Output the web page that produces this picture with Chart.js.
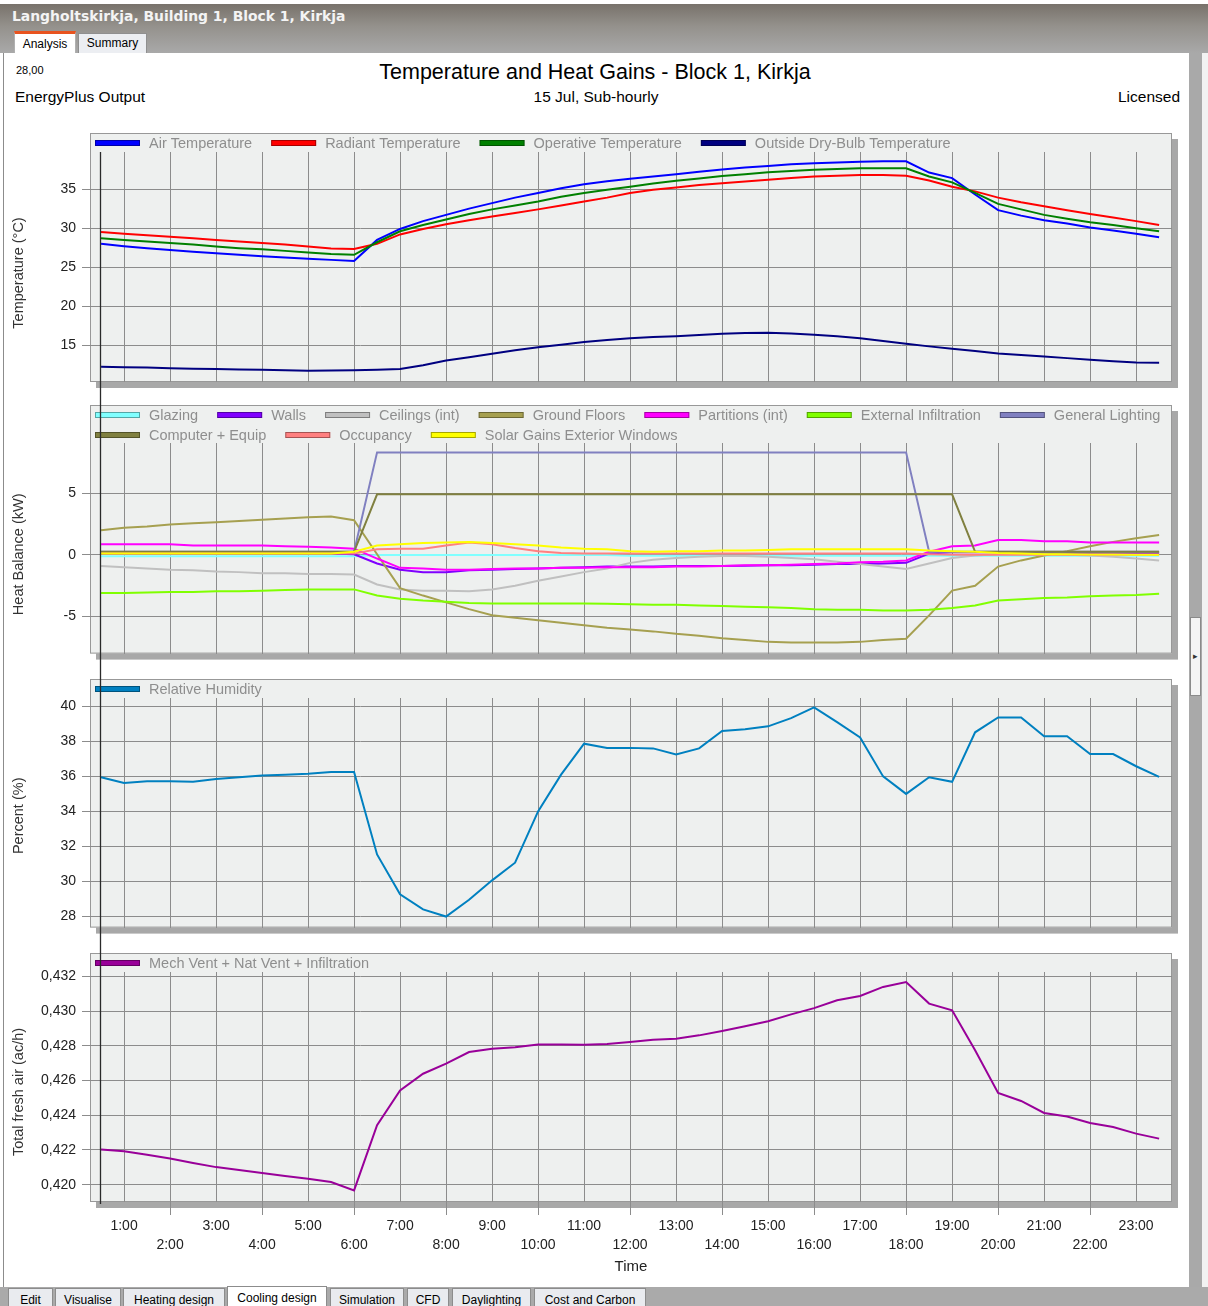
<!DOCTYPE html>
<html>
<head>
<meta charset="utf-8">
<title>Temperature and Heat Gains - Block 1, Kirkja</title>
<script src="https://cdn.jsdelivr.net/npm/chart.js@4/dist/chart.umd.min.js"></script>
<style>
  html, body { margin: 0; padding: 0; }
  body { width: 1208px; height: 1306px; position: relative; overflow: hidden; background: #fff;
         font-family: "Liberation Sans", Arial, sans-serif; }
  .abs { position: absolute; }
  #titlebar { left: 0; top: 4px; width: 1208px; height: 49px; box-sizing: border-box; padding-left: 12px;
              background: linear-gradient(#78726b 0%, #94918c 45%, #a9a9a9 100%);
              color: #f4f4f4; font: bold 13.9px "DejaVu Sans", Verdana, sans-serif; line-height: 24px; }
  .toptab { box-sizing: border-box; font-size: 12px; color: #000; text-align: center; }
  #tabA { left: 14px; top: 31px; width: 62px; height: 23px; background: #fff; border-top: 3px solid #e8531f;
          border-left: 1px solid #b0b0b0; border-right: 1px solid #b0b0b0; line-height: 20px; }
  #tabS { left: 78px; top: 33px; width: 69px; height: 20px; background: #eceef2; border: 1px solid #8f8f8f;
          border-bottom: none; line-height: 19px; }
  #content { left: 3px; top: 53px; width: 1186px; height: 1234px; background: #fff; border-left: 1px solid #8c8c8c;
             box-sizing: border-box; }
  #gutter { left: 1189px; top: 53px; width: 13px; height: 1234px; background: #a9a9a9; }
  #edge { left: 1202px; top: 53px; width: 6px; height: 1234px; background: #f2f2f2; }
  #splitter { left: 1190px; top: 617px; width: 11px; height: 79px; box-sizing: border-box; background: #f4f4f4;
              border: 1px solid #8a8a8a; font-size: 9px; line-height: 77px; text-align: center; color: #333; }
  #bottombar { left: 0; top: 1287px; width: 1208px; height: 19px; background: #aaaaaa; }
  .btab { top: 1288px; height: 22px; box-sizing: border-box; background: #e9ebef; border: 1px solid #8c8c8c;
          border-bottom: none; font-size: 12px; line-height: 22px; text-align: center; color: #000; }
  .btab.sel { top: 1286px; background: #fff; }
  .hdr { color: #000; white-space: nowrap; }
  canvas { position: absolute; left: 0; }
</style>
</head>
<body>
<div id="titlebar" class="abs">Langholtskirkja, Building 1, Block 1, Kirkja</div>
<div id="tabA" class="abs toptab">Analysis</div>
<div id="tabS" class="abs toptab">Summary</div>
<div id="content" class="abs"></div>
<div id="gutter" class="abs"></div>
<div id="edge" class="abs"></div>
<div id="splitter" class="abs">&#9656;</div>
<div id="bottombar" class="abs"></div>
<div class="abs btab" style="left:8px;width:45px">Edit</div>
<div class="abs btab" style="left:55px;width:66px">Visualise</div>
<div class="abs btab" style="left:123px;width:102px">Heating design</div>
<div class="abs btab sel" style="left:227px;width:100px">Cooling design</div>
<div class="abs btab" style="left:330px;width:74px">Simulation</div>
<div class="abs btab" style="left:407px;width:42px">CFD</div>
<div class="abs btab" style="left:452px;width:79px">Daylighting</div>
<div class="abs btab" style="left:534px;width:112px">Cost and Carbon</div>

<div id="readout" class="abs hdr" style="left:16px;top:63px;font-size:11px;line-height:14px"></div>
<div class="abs hdr" style="left:0;width:1190px;top:59px;font-size:21.5px;line-height:26px;text-align:center">Temperature and Heat Gains - Block 1, Kirkja</div>
<div class="abs hdr" style="left:15px;top:87px;font-size:15.5px;line-height:20px">EnergyPlus Output</div>
<div class="abs hdr" style="left:0;width:1192px;top:87px;font-size:15.5px;line-height:20px;text-align:center">15 Jul, Sub-hourly</div>
<div class="abs hdr" style="left:1000px;width:180px;top:87px;font-size:15.5px;line-height:20px;text-align:right">Licensed</div>

<canvas id="cTemp" width="1188" height="280" style="top:120px"></canvas>
<canvas id="cHeat" width="1188" height="268" style="top:400px"></canvas>
<canvas id="cRH" width="1188" height="274" style="top:668px"></canvas>
<canvas id="cAir" width="1188" height="338" style="top:942px"></canvas>

<script>
// ---- time axis (hours, sub-hourly samples) ----
const times = [0.5, 1, 1.5, 2, 2.5, 3, 3.5, 4, 4.5, 5, 5.5, 6, 6.5, 7, 7.5, 8, 8.5, 9, 9.5, 10, 10.5, 11, 11.5, 12,
               12.5, 13, 13.5, 14, 14.5, 15, 15.5, 16, 16.5, 17, 17.5, 18, 18.5, 19, 19.5, 20, 20.5, 21, 21.5, 22,
               22.5, 23, 23.5];
const hourTicks = [1, 2, 3, 4, 5, 6, 7, 8, 9, 10, 11, 12, 13, 14, 15, 16, 17, 18, 19, 20, 21, 22, 23];
const hourLabels = ['1:00', '2:00', '3:00', '4:00', '5:00', '6:00', '7:00', '8:00', '9:00', '10:00', '11:00', '12:00',
                    '13:00', '14:00', '15:00', '16:00', '17:00', '18:00', '19:00', '20:00', '21:00', '22:00', '23:00'];
const cursorTime = 0.5;

// ---- temperatures (°C) ----
const airTemp = [28.0, 27.7, 27.45, 27.2, 27.0, 26.8, 26.6, 26.4, 26.25, 26.1, 25.95, 25.8, 28.5, 29.9, 30.9, 31.7,
                 32.5, 33.2, 33.9, 34.5, 35.1, 35.6, 36.0, 36.3, 36.6, 36.9, 37.2, 37.5, 37.75, 37.95, 38.15, 38.3,
                 38.4, 38.5, 38.55, 38.55, 37.1, 36.4, 34.3, 32.3, 31.6, 31.0, 30.6, 30.1, 29.7, 29.3, 28.85];
const radiantTemp = [29.5, 29.3, 29.1, 28.9, 28.7, 28.5, 28.3, 28.1, 27.9, 27.65, 27.4, 27.35, 28.0, 29.2, 29.9, 30.5,
                     31.0, 31.5, 31.95, 32.4, 32.9, 33.4, 33.9, 34.5, 34.9, 35.2, 35.5, 35.75, 35.95, 36.2, 36.4, 36.6,
                     36.7, 36.8, 36.8, 36.7, 36.1, 35.3, 34.7, 33.9, 33.3, 32.8, 32.3, 31.8, 31.35, 30.9, 30.4];
const operativeTemp = [28.7, 28.5, 28.3, 28.1, 27.9, 27.65, 27.45, 27.3, 27.1, 26.9, 26.7, 26.6, 28.2, 29.6, 30.4, 31.1,
                       31.8, 32.4, 32.9, 33.4, 34.0, 34.5, 34.9, 35.3, 35.7, 36.05, 36.35, 36.65, 36.9, 37.15, 37.3,
                       37.45, 37.55, 37.65, 37.65, 37.65, 36.6, 35.85, 34.5, 33.1, 32.4, 31.7, 31.2, 30.75, 30.4, 30.0,
                       29.6];
const outsideTemp = [12.3, 12.25, 12.2, 12.1, 12.05, 12.0, 11.95, 11.9, 11.85, 11.8, 11.82, 11.85, 11.9, 12.0, 12.5,
                     13.1, 13.5, 13.95, 14.4, 14.8, 15.1, 15.45, 15.7, 15.95, 16.1, 16.2, 16.35, 16.5, 16.6, 16.65,
                     16.55, 16.4, 16.2, 15.95, 15.6, 15.25, 14.9, 14.6, 14.3, 14.0, 13.8, 13.6, 13.4, 13.2, 13.0, 12.85,
                     12.8];
const tempTicks = [15, 20, 25, 30, 35];

// ---- heat balance (kW) ----
const glazing = [-0.12, -0.12, -0.12, -0.12, -0.12, -0.12, -0.12, -0.12, -0.12, -0.12, -0.12, -0.12, -0.02, -0.02,
                 -0.02, -0.02, -0.02, -0.02, -0.02, -0.02, -0.02, -0.02, -0.02, -0.08, -0.08, -0.08, -0.08, -0.08,
                 -0.08, -0.08, -0.08, -0.08, -0.08, -0.08, -0.08, -0.08, -0.08, -0.08, -0.08, -0.08, -0.08, -0.08,
                 -0.08, -0.08, -0.08, -0.08, -0.08];
const walls = [0.1, 0.1, 0.1, 0.1, 0.1, 0.1, 0.1, 0.1, 0.1, 0.1, 0.1, 0.05, -0.7, -1.2, -1.4, -1.4, -1.25, -1.2, -1.15,
               -1.1, -1.05, -1.0, -0.95, -0.95, -0.95, -0.9, -0.9, -0.9, -0.88, -0.85, -0.85, -0.8, -0.75, -0.75,
               -0.7, -0.65, 0.1, 0.2, 0.2, 0.2, 0.2, 0.15, 0.15, 0.15, 0.1, 0.1, 0.1];
const ceilings = [-0.9, -1.0, -1.1, -1.2, -1.25, -1.35, -1.4, -1.5, -1.5, -1.55, -1.55, -1.6, -2.4, -2.8, -2.9, -2.9,
                  -2.95, -2.8, -2.5, -2.1, -1.75, -1.4, -1.1, -0.65, -0.4, -0.25, -0.15, -0.1, -0.1, -0.15, -0.25,
                  -0.35, -0.55, -0.75, -0.95, -1.15, -0.7, -0.25, -0.05, 0.05, 0.05, 0.05, 0.0, -0.05, -0.15, -0.3,
                  -0.45];
const groundFloors = [2.0, 2.2, 2.3, 2.45, 2.55, 2.65, 2.75, 2.85, 2.95, 3.05, 3.1, 2.8, 0.05, -2.7, -3.3, -3.85, -4.4,
                      -4.9, -5.1, -5.3, -5.5, -5.7, -5.9, -6.05, -6.2, -6.4, -6.55, -6.75, -6.9, -7.05, -7.1, -7.1,
                      -7.1, -7.05, -6.9, -6.8, -4.9, -2.9, -2.5, -0.95, -0.45, -0.05, 0.3, 0.7, 1.05, 1.35, 1.6];
const partitions = [0.85, 0.85, 0.85, 0.85, 0.75, 0.75, 0.75, 0.75, 0.7, 0.65, 0.6, 0.5, -0.3, -1.05, -1.1, -1.2, -1.2,
                    -1.15, -1.1, -1.1, -1.05, -1.05, -1.0, -1.0, -1.0, -0.95, -0.95, -0.9, -0.85, -0.85, -0.8, -0.75,
                    -0.7, -0.6, -0.55, -0.45, 0.25, 0.7, 0.75, 1.2, 1.2, 1.1, 1.1, 1.0, 1.0, 1.0, 1.0];
const extInfiltration = [-3.1, -3.1, -3.05, -3.0, -3.0, -2.95, -2.95, -2.9, -2.85, -2.8, -2.8, -2.8, -3.3, -3.55, -3.7,
                         -3.8, -3.9, -3.95, -3.95, -3.95, -3.95, -3.95, -3.97, -4.0, -4.05, -4.05, -4.1, -4.15, -4.2,
                         -4.25, -4.3, -4.4, -4.45, -4.45, -4.5, -4.5, -4.45, -4.3, -4.1, -3.7, -3.6, -3.5, -3.45,
                         -3.35, -3.3, -3.25, -3.15];
const lighting = [0.25, 0.25, 0.25, 0.25, 0.25, 0.25, 0.25, 0.25, 0.25, 0.25, 0.25, 0.25, 8.3, 8.3, 8.3, 8.3, 8.3, 8.3,
                  8.3, 8.3, 8.3, 8.3, 8.3, 8.3, 8.3, 8.3, 8.3, 8.3, 8.3, 8.3, 8.3, 8.3, 8.3, 8.3, 8.3, 8.3, 0.25, 0.25,
                  0.25, 0.25, 0.25, 0.25, 0.25, 0.25, 0.25, 0.25, 0.25];
const equipment = [0.25, 0.25, 0.25, 0.25, 0.25, 0.25, 0.25, 0.25, 0.25, 0.25, 0.25, 0.25, 4.9, 4.9, 4.9, 4.9, 4.9, 4.9,
                   4.9, 4.9, 4.9, 4.9, 4.9, 4.9, 4.9, 4.9, 4.9, 4.9, 4.9, 4.9, 4.9, 4.9, 4.9, 4.9, 4.9, 4.9, 4.9, 4.9,
                   0.25, 0.25, 0.25, 0.25, 0.25, 0.25, 0.25, 0.25, 0.25];
const occupancy = [0.1, 0.1, 0.1, 0.1, 0.1, 0.1, 0.1, 0.1, 0.1, 0.1, 0.1, 0.1, 0.45, 0.5, 0.5, 0.75, 1.0, 0.85, 0.55,
                   0.3, 0.15, 0.1, 0.1, 0.1, 0.1, 0.1, 0.1, 0.1, 0.1, 0.1, 0.1, 0.1, 0.1, 0.1, 0.1, 0.1, 0.05, 0.0, 0.0,
                   0.0, 0.0, 0.0, 0.0, 0.0, 0.0, 0.0, 0.0];
const solarGains = [0.1, 0.1, 0.1, 0.1, 0.1, 0.1, 0.1, 0.1, 0.1, 0.1, 0.1, 0.25, 0.75, 0.85, 0.95, 1.0, 1.05, 0.95,
                    0.85, 0.75, 0.6, 0.5, 0.45, 0.3, 0.25, 0.3, 0.3, 0.35, 0.35, 0.4, 0.45, 0.45, 0.45, 0.45, 0.45,
                    0.45, 0.35, 0.3, 0.25, 0.15, 0.1, 0.05, 0.05, 0.03, 0.02, 0.0, 0.0];
const heatTicks = [-5, 0, 5];

// ---- relative humidity (%) ----
const relHumidity = [35.95, 35.63, 35.72, 35.72, 35.7, 35.85, 35.95, 36.05, 36.1, 36.15, 36.25, 36.25, 31.54, 29.26,
                     28.4, 27.99, 28.95, 30.06, 31.07, 34.0, 36.1, 37.87, 37.63, 37.63, 37.6, 37.25, 37.6, 38.6, 38.7,
                     38.86, 39.33, 39.94, 39.1, 38.23, 36.0, 35.0, 35.95, 35.69, 38.52, 39.37, 39.37, 38.29, 38.29,
                     37.28, 37.28, 36.58, 35.97];
const rhTicks = [28, 30, 32, 34, 36, 38, 40];

// ---- total fresh air (ac/h) ----
const freshAir = [0.42203, 0.42192, 0.42172, 0.42150, 0.42125, 0.42101, 0.42085, 0.42067, 0.42050, 0.42034, 0.42015,
                  0.41967, 0.42342, 0.42543, 0.42639, 0.42697, 0.42764, 0.42783, 0.42792, 0.42808, 0.42808, 0.42806,
                  0.42810, 0.42822, 0.42835, 0.42841, 0.42860, 0.42885, 0.42912, 0.42941, 0.42981, 0.43017, 0.43062,
                  0.43087, 0.43139, 0.43167, 0.43043, 0.43004, 0.42774, 0.42528, 0.42482, 0.42413, 0.42393, 0.42355,
                  0.42332, 0.42294, 0.42265];
const airTicks = [0.420, 0.422, 0.424, 0.426, 0.428, 0.430, 0.432];

// cursor read-out (air temperature at the cursor time)
document.getElementById('readout').textContent =
  airTemp[times.indexOf(cursorTime)].toFixed(2).replace('.', ',');

Chart.defaults.font.family = '"Liberation Sans", Arial, sans-serif';
Chart.defaults.color = '#222';

const GRID = '#8c8c8c';
const FONT = '"Liberation Sans", Arial, sans-serif';

function series(label, color, values, i) {
  return {
    label, borderColor: color, backgroundColor: color,
    data: times.map((t, k) => ({ x: t, y: values[k] })),
    borderWidth: 2, pointRadius: 0, tension: 0, fill: false, order: -i
  };
}

// gray framed panel with drop shadow, in-panel legend, axis title and the time cursor
const panelFrame = {
  id: 'panelFrame',
  beforeDraw(chart, args, o) {
    const { ctx, chartArea: a } = chart;
    const top = a.top - o.legendHeight;
    const w = a.right - a.left, h = a.bottom - top;
    ctx.save();
    ctx.fillStyle = '#a8a8a8';
    ctx.fillRect(a.left + 6, top + 6, w, h);
    ctx.fillStyle = '#eef0ef';
    ctx.fillRect(a.left, top, w, h);
    ctx.strokeStyle = '#989898';
    ctx.lineWidth = 1;
    ctx.strokeRect(a.left + 0.5, top + 0.5, w - 1, h - 1);
    ctx.restore();
  },
  afterDraw(chart, args, o) {
    const { ctx, chartArea: a } = chart;
    const top = a.top - o.legendHeight;
    const sets = chart.data.datasets;
    ctx.save();
    ctx.font = '14.5px ' + FONT;
    ctx.textBaseline = 'middle';
    let idx = 0;
    o.legendRows.forEach((count, row) => {
      let x = a.left + 5;
      const y = Math.round(top + 10 + row * 19.5);
      for (let k = 0; k < count; k++, idx++) {
        const ds = sets[idx];
        ctx.fillStyle = ds.borderColor;
        ctx.fillRect(x, y - 3, 45, 6);
        ctx.strokeStyle = 'rgba(0,0,0,0.35)';
        ctx.lineWidth = 1;
        ctx.strokeRect(x + 0.5, y - 2.5, 44, 5);
        ctx.fillStyle = '#8e8e8e';
        ctx.fillText(ds.label, x + 54, y + 0.5);
        x += 54 + ctx.measureText(ds.label).width + 19;
      }
    });

    // vertical axis title
    ctx.save();
    ctx.translate(19, (a.top + a.bottom) / 2 + o.titleShift);
    ctx.rotate(-Math.PI / 2);
    ctx.textAlign = 'center';
    ctx.fillStyle = '#333';
    ctx.fillText(o.yTitle, 0, 0);
    ctx.restore();

    const cx = Math.round(chart.scales.x.getPixelForValue(o.cursorAt)) - 0.5;
    const y0 = o.cursorFrom === 'area' ? a.top : 0;
    const y1 = o.cursorTo === 'area' ? a.bottom + 2 : chart.height;
    ctx.strokeStyle = '#2a2a2a';
    ctx.lineWidth = 1.3;
    ctx.beginPath();
    ctx.moveTo(cx, y0);
    ctx.lineTo(cx, y1);
    ctx.stroke();
    ctx.restore();
  }
};

function panel(id, cfg) {
  const bottomAxis = !!cfg.bottomAxis;
  const xScale = {
    type: 'linear', min: 0.26, max: 23.78,
    afterBuildTicks: s => { s.ticks = hourTicks.map(v => ({ value: v })); },
    border: { display: false },
    grid: { color: GRID, lineWidth: 1, drawTicks: bottomAxis, tickLength: 13,
            tickColor: c => (c.tick && c.tick.value % 2 === 0 ? GRID : 'rgba(0,0,0,0)') },
    ticks: bottomAxis
      ? { display: true, autoSkip: false, maxRotation: 0, minRotation: 0, padding: 2, color: '#222',
          font: { size: 14, lineHeight: 1.36 },
          callback: (v, i) => (i % 2 === 0 ? hourLabels[i] : ['', hourLabels[i]]) }
      : { display: false },
    title: bottomAxis
      ? { display: true, text: 'Time', color: '#222', font: { size: 15 }, padding: { top: 0, bottom: 4 } }
      : { display: false },
    afterFit: s => { s.height = bottomAxis ? 78 : 0; }
  };
  return new Chart(document.getElementById(id), {
    type: 'line',
    data: { datasets: cfg.datasets },
    options: {
      responsive: false, animation: false, devicePixelRatio: 1, events: [],
      layout: { padding: { top: cfg.padTop, bottom: cfg.padBottom, left: 0, right: 16 } },
      plugins: {
        legend: { display: false }, tooltip: { enabled: false },
        panelFrame: { legendHeight: cfg.legendHeight, legendRows: cfg.legendRows, cursorAt: cursorTime,
                      cursorFrom: cfg.cursorFrom, cursorTo: cfg.cursorTo,
                      yTitle: cfg.title, titleShift: cfg.titleShift }
      },
      scales: {
        x: xScale,
        y: {
          type: 'linear', min: cfg.min, max: cfg.max,
          afterBuildTicks: s => { s.ticks = cfg.ticks.map(v => ({ value: v })); },
          afterFit: s => { s.width = 90; },
          border: { display: false },
          grid: { color: GRID, lineWidth: 1, tickLength: 8, tickColor: GRID },
          ticks: { padding: 6, color: '#222', font: { size: 14 }, callback: cfg.fmt || (v => String(v)) },
          title: { display: false }
        }
      }
    },
    plugins: [panelFrame]
  });
}

panel('cTemp', {
  title: 'Temperature (°C)', titleShift: 6, min: 10.35, max: 39.73, ticks: tempTicks,
  padTop: 32, padBottom: 18, legendHeight: 19, legendRows: [4], cursorFrom: 'area',
  datasets: [
    series('Air Temperature', '#0000ff', airTemp, 0),
    series('Radiant Temperature', '#ff0000', radiantTemp, 1),
    series('Operative Temperature', '#008000', operativeTemp, 2),
    series('Outside Dry-Bulb Temperature', '#000080', outsideTemp, 3)
  ]
});

panel('cHeat', {
  title: 'Heat Balance (kW)', titleShift: 6, min: -8.0, max: 9.06, ticks: heatTicks,
  padTop: 43, padBottom: 13, legendHeight: 38, legendRows: [7, 3],
  datasets: [
    series('Glazing', '#80ffff', glazing, 0),
    series('Walls', '#8000ff', walls, 1),
    series('Ceilings (int)', '#c0c0c0', ceilings, 2),
    series('Ground Floors', '#a6a050', groundFloors, 3),
    series('Partitions (int)', '#ff00ff', partitions, 4),
    series('External Infiltration', '#80ff00', extInfiltration, 5),
    series('General Lighting', '#8080c0', lighting, 6),
    series('Computer + Equip', '#808040', equipment, 7),
    series('Occupancy', '#ff8080', occupancy, 8),
    series('Solar Gains Exterior Windows', '#ffff00', solarGains, 9)
  ]
});

panel('cRH', {
  title: 'Percent (%)', titleShift: 3, min: 27.36, max: 40.48, ticks: rhTicks,
  padTop: 30, padBottom: 14, legendHeight: 19, legendRows: [1],
  datasets: [series('Relative Humidity', '#0080c0', relHumidity, 0)]
});

panel('cAir', {
  title: 'Total fresh air (ac/h)', titleShift: 5, min: 0.419, max: 0.43225, ticks: airTicks,
  fmt: v => v.toFixed(3).replace('.', ','),
  padTop: 30, padBottom: 0, legendHeight: 19, legendRows: [1], cursorTo: 'area', bottomAxis: true,
  datasets: [series('Mech Vent + Nat Vent + Infiltration', '#990099', freshAir, 0)]
});
</script>
</body>
</html>
